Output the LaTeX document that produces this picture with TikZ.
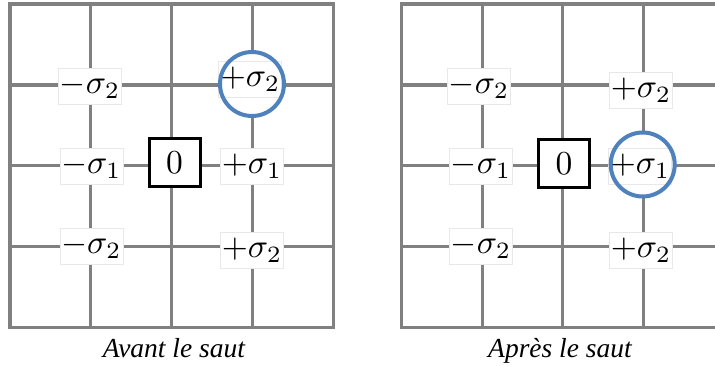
\documentclass[tikz,border=0pt]{standalone}
\usepackage{graphicx}
\usepackage{fontspec}
\newfontfamily\capfont{Liberation Serif}
\definecolor{gridgray}{RGB}{128,128,128}
\definecolor{boxgray}{RGB}{232,232,232}
\definecolor{ringblue}{RGB}{79,129,189}
\newcommand{\labmath}[1]{\scalebox{3.35}{$#1$}}
\begin{document}
\begin{tikzpicture}[x=1pt,y=-1pt,
  gridline/.style={draw=gridgray,line width=3.3pt},
  lab/.style={fill=white,draw=boxgray,line width=0.6pt,minimum width=63pt,minimum height=36pt,inner sep=0pt},
  zerobox/.style={fill=white,draw=black,line width=3pt,minimum width=51pt,minimum height=48pt,inner sep=0pt},
  ringfill/.style={circle,fill=white,minimum size=64pt,inner sep=0pt},
  ring/.style={circle,draw=ringblue,line width=4pt,minimum size=64pt,inner sep=0pt},
  caption/.style={font=\capfont\itshape\fontsize{27.5}{31}\selectfont,anchor=base,inner sep=0pt}]
\useasboundingbox (0,0) rectangle (715,366);
\fill[white] (0,0) rectangle (715,366);
\clip (0,0) rectangle (715,366);
% left grid
\foreach \i in {1,2,3} {
  \draw[gridline] (10+80.8*\i,4) -- (10+80.8*\i,327.6);
  \draw[gridline] (10,4+80.9*\i) -- (333.2,4+80.9*\i);
}
\draw[gridline] (10,4) rectangle (333.2,327.6);
% right grid
\foreach \i in {1,2,3} {
  \draw[gridline] (401.7+80.5*\i,4) -- (401.7+80.5*\i,327.6);
  \draw[gridline] (401.7,4+80.9*\i) -- (723.7,4+80.9*\i);
}
\draw[gridline] (401.7,4) rectangle (723.7,327.6);
% left labels
\node[lab] (lm2a) at (90,86) {\labmath{-\sigma_2}};
\node[lab] (lm1) at (91.3,166) {\labmath{-\sigma_1}};
\node[lab] (lm2b) at (91.3,246.5) {\labmath{-\sigma_2}};
\node[zerobox] (l0) at (174.5,163) {\labmath{0}};
\node[lab] (lp1) at (252,166) {\labmath{+\sigma_1}};
\node[lab] (lp2b) at (252,250) {\labmath{+\sigma_2}};
\node[ringfill] (lringf) at (252,84) {};
\node[lab] (lp2a) at (250,79) {\labmath{+\sigma_2}};
\node[ring] (lring) at (252,84) {};
% right labels
\node[lab] (rm2a) at (479,86) {\labmath{-\sigma_2}};
\node[lab] (rm1) at (481,166) {\labmath{-\sigma_1}};
\node[lab] (rm2b) at (481,246.5) {\labmath{-\sigma_2}};
\node[zerobox] (r0) at (564,163.7) {\labmath{0}};
\node[lab] (rp2a) at (641,90.5) {\labmath{+\sigma_2}};
\node[lab] (rp2b) at (641,250) {\labmath{+\sigma_2}};
\node[ringfill] (rringf) at (642.7,164.5) {};
\node[lab] (rp1) at (640,166) {\labmath{+\sigma_1}};
\node[ring] (rring) at (642.7,164.5) {};
% captions
\node[caption] (lcap) at (174,357) {Avant le saut};
\node[caption] (rcap) at (560,357) {Après le saut};
\end{tikzpicture}
\end{document}
